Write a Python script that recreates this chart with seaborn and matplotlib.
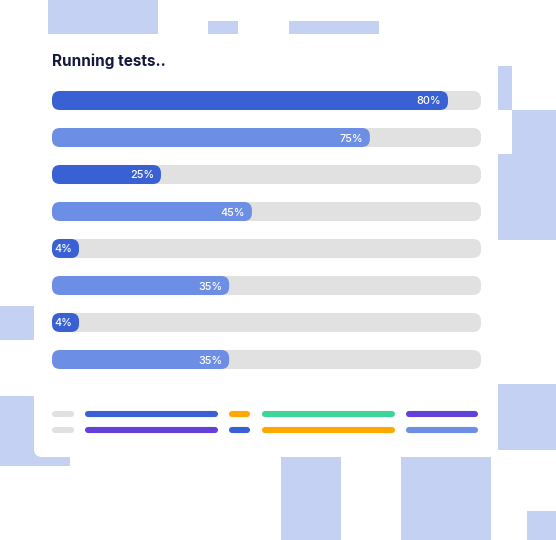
import numpy as np
import pandas as pd
import matplotlib
matplotlib.use("Agg")
import matplotlib.pyplot as plt
from matplotlib.patches import FancyBboxPatch, Rectangle
import seaborn as sns

# progress rows: printed label and how far the fill reaches along the track
labels = ["80%", "75%", "25%", "45%", "4%", "35%", "4%", "35%"]
fill_pct = [92.3, 74.1, 25.4, 46.6, 6.3, 41.3, 6.3, 41.3]
track_pct = [100] * 8
fill_colors = ["#3961D4", "#6D8EE5"] * 4

# placeholder "legend" lines at the bottom of the card
legend_row1 = ["#E1E1E1", "#3961D4", "#FFA800", "#3DD598", "#6341D8"]
legend_row2 = ["#E1E1E1", "#6341D8", "#3961D4", "#FFA800", "#6D8EE5"]
legend_spans = [(55, 71), (88, 215), (232, 247), (265, 392), (409, 475)]

DECO = "#C5D1F2"
deco_rects = [(48, 158, 0, 34), (208, 238, 21, 34), (289, 379, 21, 34),
              (498, 512, 66, 110), (512, 556, 110, 154), (498, 556, 154, 240),
              (0, 34, 306, 340), (0, 34, 396, 466), (34, 70, 440, 466),
              (281, 341, 456, 540), (401, 491, 456, 540), (498, 556, 384, 450),
              (527, 556, 511, 540)]

sns.set_theme(style="white")
plt.rcParams["font.family"] = ["Inter", "DejaVu Sans"]

W, H = 556, 540
fig = plt.figure(figsize=(W / 100, H / 100), dpi=100)
fig.patch.set_facecolor("white")

# background axes in pixel units
bg = fig.add_axes([0, 0, 1, 1])
bg.set_xlim(0, W)
bg.set_ylim(H, 0)
bg.axis("off")

for x0, x1, y0, y1 in deco_rects:
    bg.add_patch(Rectangle((x0, y0), x1 - x0, y1 - y0, color=DECO, lw=0, zorder=1))

bg.add_patch(FancyBboxPatch((34, 34), 464, 423, boxstyle="round,pad=0,rounding_size=8",
                            fc="white", ec="none", zorder=2))

bg.text(52.5, 66, "Running tests..", fontsize=11, fontweight="bold", color="#14183E",
        va="baseline", ha="left", zorder=3)

for row_y, row_cols in [(414, legend_row1), (430, legend_row2)]:
    for c, (a, b) in zip(row_cols, legend_spans):
        bg.plot([a, b], [row_y, row_y], color=c, lw=4.4, solid_capstyle="round", zorder=3)

# bar axes sitting exactly over the tracks
x_left, x_right = 52, 481
y_top, y_bot = 82, 378
ax = fig.add_axes([x_left / W, (H - y_bot) / H, (x_right - x_left) / W, (y_bot - y_top) / H])
ax.set_zorder(5)
ax.patch.set_alpha(0)

df = pd.DataFrame({"row": [str(i) for i in range(len(labels))],
                   "track": track_pct, "fill": fill_pct, "label": labels})
sns.barplot(data=df, x="track", y="row", orient="h", color="#E1E1E1", saturation=1,
            width=0.514, ax=ax)
sns.barplot(data=df, x="fill", y="row", orient="h", hue="row", palette=fill_colors,
            saturation=1, width=0.514, legend=False, ax=ax)

ax.set_xlim(0, 100)
ax.set_ylim(len(labels) - 0.5, -0.5)
ax.axis("off")

# round the bar ends (8 px radius)
px_x = 100 / (x_right - x_left)
px_y = 1 / 37
rects = list(ax.patches)
for p in rects:
    x, y = p.get_x(), p.get_y()
    w, h = p.get_width(), p.get_height()
    fc = p.get_facecolor()
    z = p.get_zorder()
    p.remove()
    ax.add_patch(FancyBboxPatch((x, y), w, h,
                                boxstyle=f"round,pad=0,rounding_size={8 * px_x}",
                                mutation_aspect=px_y / px_x, fc=fc, ec="none", zorder=z))

for i, (lab, f) in enumerate(zip(labels, fill_pct)):
    ax.text(f - 7 * px_x, i, lab, color="white", fontsize=7.8, fontweight="medium",
            ha="right", va="center_baseline")

fig.savefig("out.png", dpi=100, facecolor="white")
